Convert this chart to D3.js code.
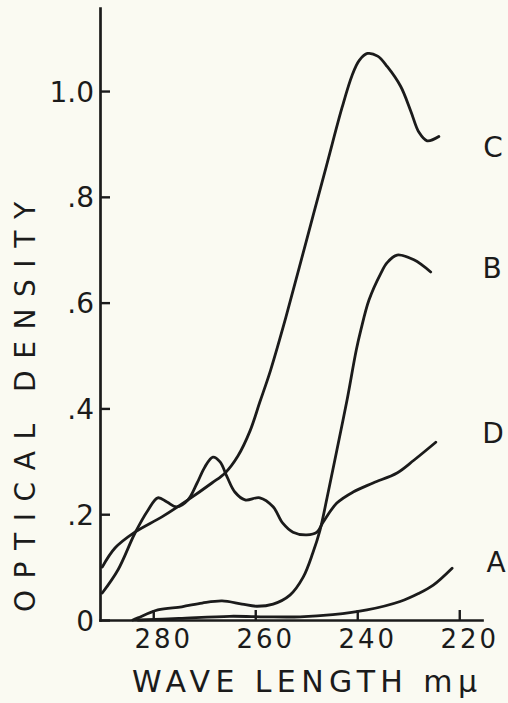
<!DOCTYPE html>
<html>
<head>
<meta charset="utf-8">
<script src="https://cdn.jsdelivr.net/npm/d3@7"></script>
<style>
  html, body { margin: 0; padding: 0; background: #fafaf2; }
  svg { display: block; }
  text { font-family: "DejaVu Sans", sans-serif; fill: #1b1b1b; }
</style>
</head>
<body>
<svg id="chart" width="508" height="703"></svg>
<script>
// Axis ticks
const xTicks = [280, 260, 240, 220];
const yTicks = [0, 0.2, 0.4, 0.6, 0.8, 1.0];
const yTickLabels = ["0", ".2", ".4", ".6", ".8", "1.0"];

// Absorption spectra: wavelength (mμ) and optical density per curve
const nmC = [290.0, 287.5, 283.6, 278.3, 273.2, 268.5, 265.9, 263.4, 261.0, 259.1, 257.0, 254.0, 250.0, 246.0, 243.0, 241.0, 239.6, 238.0, 236.0, 234.1, 231.5, 229.5, 227.9, 226.3, 224.0];
const odC = [0.100, 0.136, 0.166, 0.195, 0.227, 0.259, 0.278, 0.310, 0.358, 0.412, 0.472, 0.572, 0.716, 0.860, 0.968, 1.030, 1.058, 1.071, 1.066, 1.046, 1.009, 0.962, 0.922, 0.906, 0.914];

const nmB = [284.0, 283.0, 279.1, 274.4, 270.4, 266.5, 262.6, 259.7, 256.5, 253.2, 250.6, 248.7, 247.3, 245.9, 244.0, 242.0, 240.2, 239.3, 237.7, 235.4, 234.1, 232.2, 228.9, 225.6];
const odB = [0.000, 0.004, 0.019, 0.025, 0.032, 0.036, 0.030, 0.026, 0.030, 0.047, 0.081, 0.127, 0.170, 0.232, 0.321, 0.416, 0.510, 0.548, 0.605, 0.655, 0.676, 0.690, 0.681, 0.658];

const nmD = [290.0, 286.9, 283.6, 281.0, 279.1, 277.3, 275.4, 273.2, 271.4, 269.9, 268.3, 266.9, 265.5, 264.0, 262.0, 259.1, 256.5, 254.6, 252.6, 249.9, 247.9, 246.7, 244.0, 240.8, 236.9, 232.2, 228.9, 224.6];
const odD = [0.051, 0.095, 0.164, 0.208, 0.231, 0.223, 0.214, 0.227, 0.259, 0.289, 0.308, 0.299, 0.270, 0.242, 0.227, 0.231, 0.214, 0.183, 0.166, 0.161, 0.166, 0.185, 0.221, 0.242, 0.259, 0.278, 0.302, 0.336];

const nmA = [283.0, 275.0, 265.0, 258.0, 251.2, 244.8, 238.1, 231.6, 228.0, 225.1, 221.4];
const odA = [0.000, 0.003, 0.007, 0.006, 0.006, 0.010, 0.019, 0.035, 0.050, 0.066, 0.098];

const curveNames = ["C", "B", "D", "A"];
const curveNm = [nmC, nmB, nmD, nmA];
const curveOd = [odC, odB, odD, odA];

const svg = d3.select("#chart");
const ink = "#1b1b1b";

// Wavelength runs right-to-left (decreasing)
const x = d3.scaleLinear().domain([290.44, 215.54]).range([100, 482]);
const y = d3.scaleLinear().domain([0, 1.157]).range([620, 8]);

// Spectra
const line = d3.line()
  .x(d => x(d[0]))
  .y(d => y(d[1]))
  .curve(d3.curveCatmullRom.alpha(0.5));

curveNames.forEach((name, i) => {
  const pts = curveNm[i].map((w, j) => [w, curveOd[i][j]]);
  svg.append("path")
    .datum(pts)
    .attr("d", line)
    .attr("fill", "none")
    .attr("stroke", ink)
    .attr("stroke-width", 2.8)
    .attr("stroke-linejoin", "round")
    .attr("stroke-linecap", "round");
});

// Y axis
const yAxis = svg.append("g")
  .attr("transform", "translate(100,0)")
  .call(d3.axisLeft(y)
    .tickValues(yTicks)
    .tickFormat((d, i) => yTickLabels[i])
    .tickSizeInner(-10)
    .tickSizeOuter(0)
    .tickPadding(6));
yAxis.select(".domain").attr("stroke", ink).attr("stroke-width", 2.7).attr("stroke-linecap", "square");
yAxis.selectAll(".tick line").attr("stroke", ink).attr("stroke-width", 2.4);
yAxis.selectAll(".tick text")
  .attr("font-size", 28)
  .attr("font-family", "DejaVu Sans, sans-serif")
  .attr("fill", ink)
  .attr("dy", "0.36em");

// X axis
const xAxis = svg.append("g")
  .attr("transform", "translate(0,620)")
  .call(d3.axisBottom(x)
    .tickValues(xTicks)
    .tickSizeInner(-10)
    .tickSizeOuter(0));
xAxis.select(".domain").attr("stroke", ink).attr("stroke-width", 2.7).attr("stroke-linecap", "square");
xAxis.selectAll(".tick line").attr("stroke", ink).attr("stroke-width", 2.4);
xAxis.selectAll(".tick text")
  .attr("font-size", 26)
  .attr("font-family", "DejaVu Sans, sans-serif")
  .attr("fill", ink)
  .attr("letter-spacing", 3)
  .attr("y", 28)
  .attr("dy", 0)
  .attr("dx", 10);

// Axis titles
svg.append("text")
  .attr("x", 132)
  .attr("y", 692)
  .attr("font-size", 30)
  .attr("textLength", 345)
  .attr("lengthAdjust", "spacing")
  .text("WAVE LENGTH mμ");

svg.append("text")
  .attr("transform", "translate(35,407) rotate(-90)")
  .attr("text-anchor", "middle")
  .attr("font-size", 28)
  .attr("textLength", 410)
  .attr("lengthAdjust", "spacing")
  .text("OPTICAL DENSITY");

// Curve labels at the right margin
const labelY = { C: 147, B: 268, D: 433, A: 562 };
const labelX = { C: 493, B: 492, D: 493, A: 496 };
curveNames.forEach(name => {
  svg.append("text")
    .attr("x", labelX[name])
    .attr("y", labelY[name] + 10)
    .attr("text-anchor", "middle")
    .attr("font-size", 28)
    .text(name);
});
</script>
</body>
</html>
